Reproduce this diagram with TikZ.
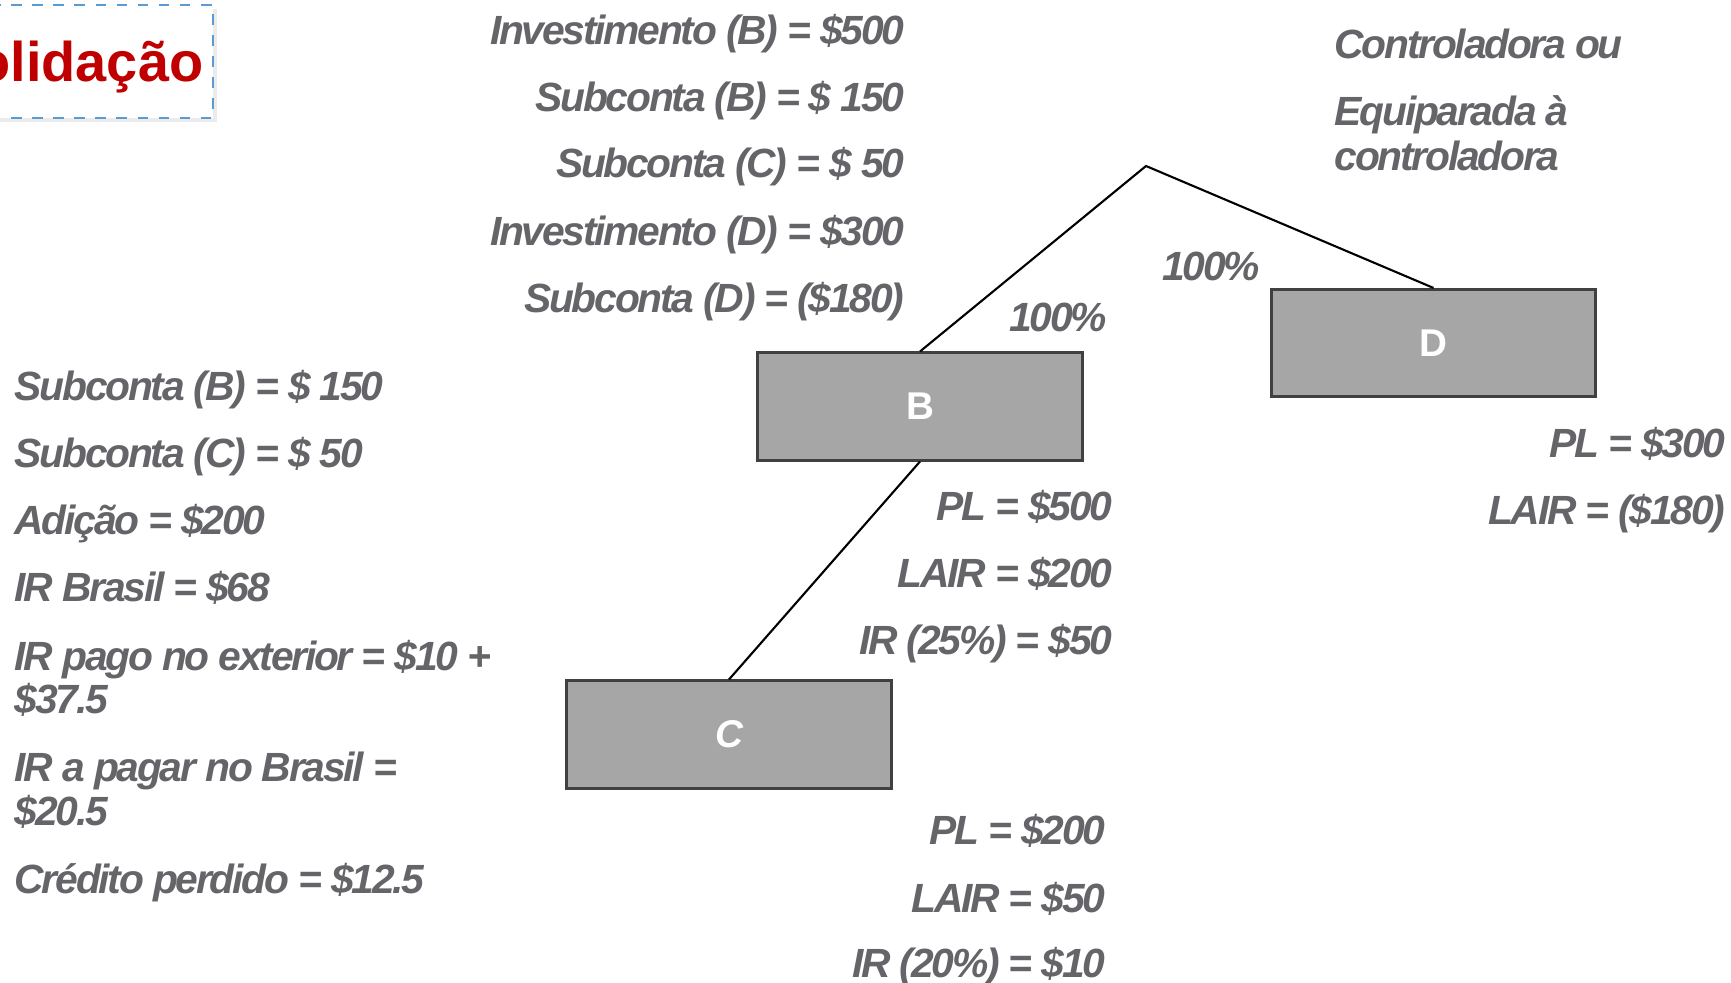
\documentclass[tikz,border=0pt]{standalone}
\usepackage{fontspec}
\setmainfont{Liberation Sans}
\newfontfamily\lblfont[LetterSpace=-5.5]{Liberation Sans}
\definecolor{txtgray}{RGB}{100,100,105}
\definecolor{boxfill}{RGB}{166,166,166}
\definecolor{boxline}{RGB}{64,64,64}
\definecolor{titlered}{RGB}{192,0,0}
\definecolor{dashblue}{RGB}{91,155,213}
\tikzset{
  txt/.style={font=\lblfont\bfseries\itshape\fontsize{11.6}{14}\selectfont, text=txtgray, inner sep=0pt, text height=0.32cm, text depth=0.09cm},
  ent/.style={draw=boxline, line width=0.85pt, fill=boxfill, minimum width=3.24cm, minimum height=1.07cm, inner sep=0pt, text=white, font=\bfseries\fontsize{11}{12}\selectfont},
  conn/.style={draw=black, line width=0.6pt}
}
\begin{document}
\begin{tikzpicture}[x=0.01cm,y=-0.01cm]
\useasboundingbox (0,0) rectangle (1731,983);
% title box
\fill[black!8] (-10,9) rectangle (217,122);
\fill[white] (-10,5) rectangle (213,118);
\draw[dashblue, dashed, line width=0.6pt] (-10,5) -- (213,5) -- (213,118) -- (-10,118);
\node[anchor=east, inner sep=0pt, text=titlered, font=\bfseries\fontsize{15.9}{18}\selectfont] (title) at (204,67) {olidação};
% boxes
\node[ent] (B) at (920,406.5) {B};
\node[ent] (D) at (1433.5,343) {D};
\node[ent, font=\bfseries\itshape\fontsize{11}{12}\selectfont] (C) at (729,734.5) {C};
\coordinate (apex) at (1146,166);
\draw[conn] (B.north) -- (apex) -- (D.north);
\draw[conn] (B.south) -- (C.north);
% percentages
\node[txt] (pB) at (1058,320) {100\%};
\node[txt] (pD) at (1211,269) {100\%};
% top list
\node[txt, anchor=east] (t1) at (905,33) {Investimento (B) = \$500};
\node[txt, anchor=east] (t2) at (905,100) {Subconta (B) = \$ 150};
\node[txt, anchor=east] (t3) at (905,166) {Subconta (C) = \$ 50};
\node[txt, anchor=east] (t4) at (905,234) {Investimento (D) = \$300};
\node[txt, anchor=east] (t5) at (905,301) {Subconta (D) = (\$180)};
% controladora
\node[txt, anchor=west] (c1) at (1334,47) {Controladora ou};
\node[txt, anchor=west] (c2) at (1334,114) {Equiparada à};
\node[txt, anchor=west] (c3) at (1334,159) {controladora};
% left list
\node[txt, anchor=west] (l1) at (14,389) {Subconta (B) = \$ 150};
\node[txt, anchor=west] (l2) at (14,456) {Subconta (C) = \$ 50};
\node[txt, anchor=west] (l3) at (14,523) {Adição = \$200};
\node[txt, anchor=west] (l4) at (14,590) {IR Brasil = \$68};
\node[txt, anchor=west] (l5) at (14,659) {IR pago no exterior = \$10 +};
\node[txt, anchor=west] (l6) at (14,702) {\$37.5};
\node[txt, anchor=west] (l7) at (14,770) {IR a pagar no Brasil =};
\node[txt, anchor=west] (l8) at (14,814) {\$20.5};
\node[txt, anchor=west] (l9) at (14,882) {Crédito perdido = \$12.5};
% B data
\node[txt, anchor=east] (b1) at (1113,509) {PL = \$500};
\node[txt, anchor=east] (b2) at (1113,576) {LAIR = \$200};
\node[txt, anchor=east] (b3) at (1113,643) {IR (25\%) = \$50};
% D data
\node[txt, anchor=east] (d1) at (1726,446) {PL = \$300};
\node[txt, anchor=east] (d2) at (1726,513) {LAIR = (\$180)};
% C data
\node[txt, anchor=east] (k1) at (1106,833) {PL = \$200};
\node[txt, anchor=east] (k2) at (1106,901) {LAIR = \$50};
\node[txt, anchor=east] (k3) at (1106,966) {IR (20\%) = \$10};
\end{tikzpicture}
\end{document}
